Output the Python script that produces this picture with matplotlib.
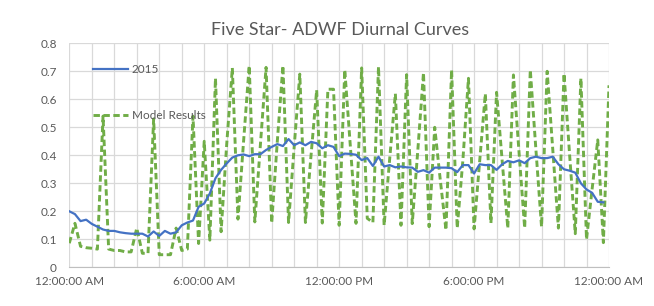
import numpy as np
import matplotlib
matplotlib.use("Agg")
import matplotlib.pyplot as plt

# 15-minute samples starting at 12:00:00 AM
obs_2015 = [
    0.200, 0.190, 0.165, 0.170, 0.155, 0.145, 0.135, 0.130, 0.130, 0.125,
    0.122, 0.120, 0.120, 0.120, 0.110, 0.128, 0.112, 0.130, 0.120, 0.125,
    0.150, 0.160, 0.167, 0.216, 0.228, 0.264, 0.318, 0.348, 0.371, 0.392,
    0.400, 0.403, 0.397, 0.404, 0.404, 0.419, 0.430, 0.440, 0.433, 0.458,
    0.436, 0.446, 0.436, 0.448, 0.443, 0.425, 0.436, 0.430, 0.397, 0.406,
    0.405, 0.402, 0.383, 0.390, 0.362, 0.395, 0.360, 0.365, 0.357, 0.360,
    0.357, 0.356, 0.341, 0.347, 0.338, 0.356, 0.356, 0.356, 0.354, 0.340,
    0.365, 0.365, 0.335, 0.368, 0.365, 0.365, 0.348, 0.368, 0.380, 0.375,
    0.382, 0.372, 0.390, 0.395, 0.390, 0.390, 0.395, 0.368, 0.350, 0.345,
    0.338, 0.300, 0.278, 0.266, 0.234, 0.232,
]

model_results = [
    0.086, 0.157, 0.075, 0.070, 0.068, 0.065, 0.540, 0.065, 0.060, 0.060,
    0.055, 0.055, 0.140, 0.050, 0.050, 0.530, 0.045, 0.045, 0.045, 0.140,
    0.060, 0.065, 0.540, 0.085, 0.450, 0.097, 0.675, 0.127, 0.440, 0.712,
    0.172, 0.450, 0.720, 0.162, 0.440, 0.714, 0.158, 0.450, 0.720, 0.160,
    0.430, 0.690, 0.160, 0.400, 0.633, 0.158, 0.636, 0.636, 0.150, 0.705,
    0.430, 0.157, 0.712, 0.175, 0.160, 0.716, 0.150, 0.390, 0.620, 0.150,
    0.688, 0.156, 0.420, 0.695, 0.145, 0.500, 0.310, 0.133, 0.705, 0.140,
    0.380, 0.675, 0.137, 0.380, 0.620, 0.158, 0.625, 0.380, 0.140, 0.687,
    0.410, 0.140, 0.705, 0.420, 0.145, 0.700, 0.420, 0.140, 0.692, 0.400,
    0.120, 0.675, 0.100, 0.280, 0.455, 0.088, 0.650,
]

tick_labels = ["12:00:00 AM", "6:00:00 AM", "12:00:00 PM", "6:00:00 PM", "12:00:00 AM"]
title = "Five Star- ADWF Diurnal Curves"

hours_obs = np.arange(len(obs_2015)) * 0.25
hours_mod = np.arange(len(model_results)) * 0.25

plt.rcParams["font.family"] = ["Lato", "DejaVu Sans"]
txt = "#595959"
grid = "#d9d9d9"

fig = plt.figure(figsize=(6.54, 3.06), dpi=100)
ax = fig.add_axes([69.3 / 654, 1 - 267.3 / 306, (609 - 69.3) / 654, (267.3 - 43.3) / 306])

ax.plot(hours_obs, obs_2015, color="#4472C4", lw=1.6, label="2015", zorder=3)
ax.plot(hours_mod, model_results, color="#70AD47", lw=2.1, dashes=(2.2, 1.2),
        label="Model Results", zorder=2)

ax.set_xlim(0, 24)
ax.set_ylim(0, 0.8)
ax.set_yticks(np.arange(0, 0.81, 0.1))
ax.set_yticklabels(["0"] + [f"{v:.1f}" for v in np.arange(0.1, 0.81, 0.1)])
ax.set_xticks([0, 6, 12, 18, 24])
ax.set_xticklabels(tick_labels)
ax.set_xticks(np.arange(0, 25, 1), minor=True)
ax.grid(True, which="both", color=grid, lw=0.9)
ax.set_axisbelow(True)
ax.tick_params(which="both", length=0, colors=txt, labelsize=8.5)
ax.tick_params(axis="y", pad=9)
ax.tick_params(axis="x", pad=6)
for s in ["top", "right", "left"]:
    ax.spines[s].set_visible(False)
ax.spines["bottom"].set_color("#bfbfbf")

fig.text(0.52, 1 - 30 / 306, title, ha="center", va="center", fontsize=13, color=txt)

leg = ax.legend(loc="upper left", bbox_to_anchor=(0.035, 0.93), frameon=False,
                handlelength=3.0, handletextpad=0.3, labelspacing=3.0, fontsize=8.5,
                borderaxespad=0)
for t in leg.get_texts():
    t.set_color(txt)

fig.savefig("out.png", dpi=100, facecolor="white")
